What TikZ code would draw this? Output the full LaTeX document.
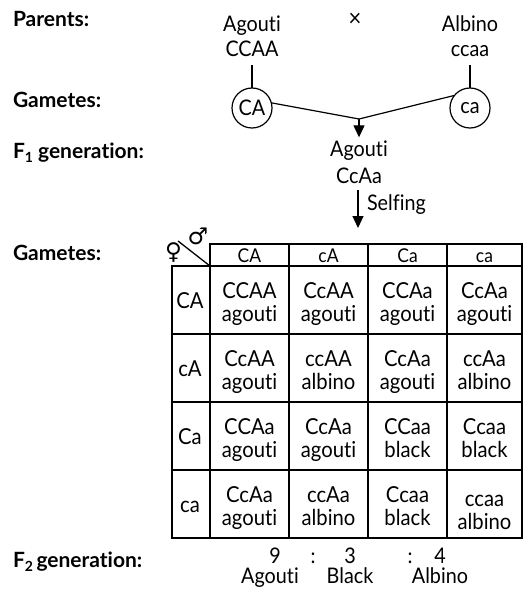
\documentclass[tikz,border=0pt]{standalone}
\usepackage{fontspec}
\setmainfont{Lato}[FakeStretch=0.92,Ligatures={NoCommon}]
\newfontfamily\lblfont{Lato}[Ligatures={NoCommon}]
\newfontfamily\symfont{DejaVu Sans}
\usetikzlibrary{arrows.meta}
\begin{document}
\begin{tikzpicture}[x=1pt,y=-1pt,
  every node/.style={inner sep=0pt,outer sep=0pt},
  lbl/.style={font=\fontsize{21}{25}\lblfont\bfseries,anchor=base west},
  txt/.style={font=\fontsize{21.5}{25}\selectfont,anchor=base},
  ttxt/.style={font=\fontsize{22}{24}\selectfont,anchor=base},
  htxt/.style={font=\fontsize{19}{22}\selectfont,anchor=base},
  gam/.style={draw,circle,minimum size=40pt,line width=1.2pt,font=\fontsize{21.5}{24}\selectfont},
  ln/.style={line width=1.2pt},
  arr/.style={line width=1.2pt,-{Triangle[width=11pt,length=12pt]}},
  grid/.style={line width=1.5pt},
  sym/.style={font=\fontsize{23}{23}\symfont}]
\useasboundingbox (0,0) rectangle (527,596);
% row labels
\node[lbl] (lp) at (13,27) {Parents:};
\node[lbl] (lg1) at (13,108) {Gametes:};
\node[lbl] (lf1) at (13,158) {F\raisebox{-4pt}{\fontsize{14}{14}\lblfont\bfseries 1} generation:};
\node[lbl] (lg2) at (13,260) {Gametes:};
\node[lbl] (lf2) at (13,567) {F\raisebox{-4pt}{\fontsize{14}{14}\lblfont\bfseries 2}\,generation:};
% parents
\node[txt] (p1n) at (252,32) {Agouti};
\node[txt] (p1g) at (252,57) {CCAA};
\node[txt,anchor=center,font=\fontsize{24}{25}\selectfont] (cross) at (355,20) {×};
\node[txt] (p2n) at (470,32) {Albino};
\node[txt] (p2g) at (470,57) {ccaa};
\node[gam] (g1) at (252,108) {CA};
\node[gam] (g2) at (470,108) {ca};
\draw[ln,shorten <=8pt] (p1g) -- (g1);
\draw[ln,shorten <=8pt] (p2g) -- (g2);
\coordinate (j) at (359,119);
\draw[ln] (g1.15) -- (j) -- (g2.141);
% F1
\node[txt] (f1n) at (359,157) {Agouti};
\node[txt] (f1g) at (359,183) {CcAa};
\draw[arr,shorten >=4pt] (j) -- (f1n);
\coordinate (selfend) at (358,228);
\draw[arr,shorten <=7pt] (f1g.south -| selfend) -- (selfend);
\node[txt,anchor=base west] (self) at (367,210) {Selfing};
% table
\draw[grid] (210,244) rectangle (522,266);
\draw[grid] (172,266) rectangle (522,538);
\foreach \x in {210,289,368,447} \draw[grid] (\x,266) -- (\x,538);
\foreach \x in {289,368,447} \draw[grid] (\x,244) -- (\x,266);
\foreach \y in {334,402,470} \draw[grid] (172,\y) -- (522,\y);
\draw[line width=1.3pt] (178,241) -- (210,266);
\node[sym] (fem) at (173.5,253) {♀};
\node[sym] (mal) at (198,236) {♂};
% header and row heads
\foreach \t [count=\i from 0] in {CA,cA,Ca,ca}{
  \pgfmathsetmacro\xx{{249.5,328.5,407.5,484.5}[\i]}
  \node[htxt] (h\i) at (\xx,262) {\t};
  \pgfmathsetmacro\yy{300+68*\i+8}
  \node[ttxt] (r\i) at (190,\yy) {\t};
}
% cells
\foreach \g/\p [count=\i from 0] in {CCAA/agouti,CcAA/agouti,CCAa/agouti,CcAa/agouti,
  CcAA/agouti,ccAA/albino,CcAa/agouti,ccAa/albino,
  CCAa/agouti,CcAa/agouti,CCaa/black,Ccaa/black,
  CcAa/agouti,ccAa/albino,Ccaa/black,ccaa/albino}{
  \pgfmathtruncatemacro\r{\i/4}
  \pgfmathtruncatemacro\c{mod(\i,4)}
  \pgfmathsetmacro\xx{{249.5,328.5,407.5,484.5}[\c]}
  \pgfmathsetmacro\yy{266+68*\r+(\i==15?4:0)}
  \node[ttxt] (gen\i) at (\xx,\yy+32) {\g};
  \node[ttxt] (phe\i) at (\xx,\yy+55) {\p};
}
% F2 ratio
\node[txt] (n9) at (275,563) {9};
\node[txt] (c1) at (313,563) {:};
\node[txt] (n3) at (350,563) {3};
\node[txt] (c2) at (410,563) {:};
\node[txt] (n4) at (440,563) {4};
\node[txt] (ra) at (270,583) {Agouti};
\node[txt] (rb) at (350,583) {Black};
\node[txt] (rc) at (440,583) {Albino};
\end{tikzpicture}
\end{document}
